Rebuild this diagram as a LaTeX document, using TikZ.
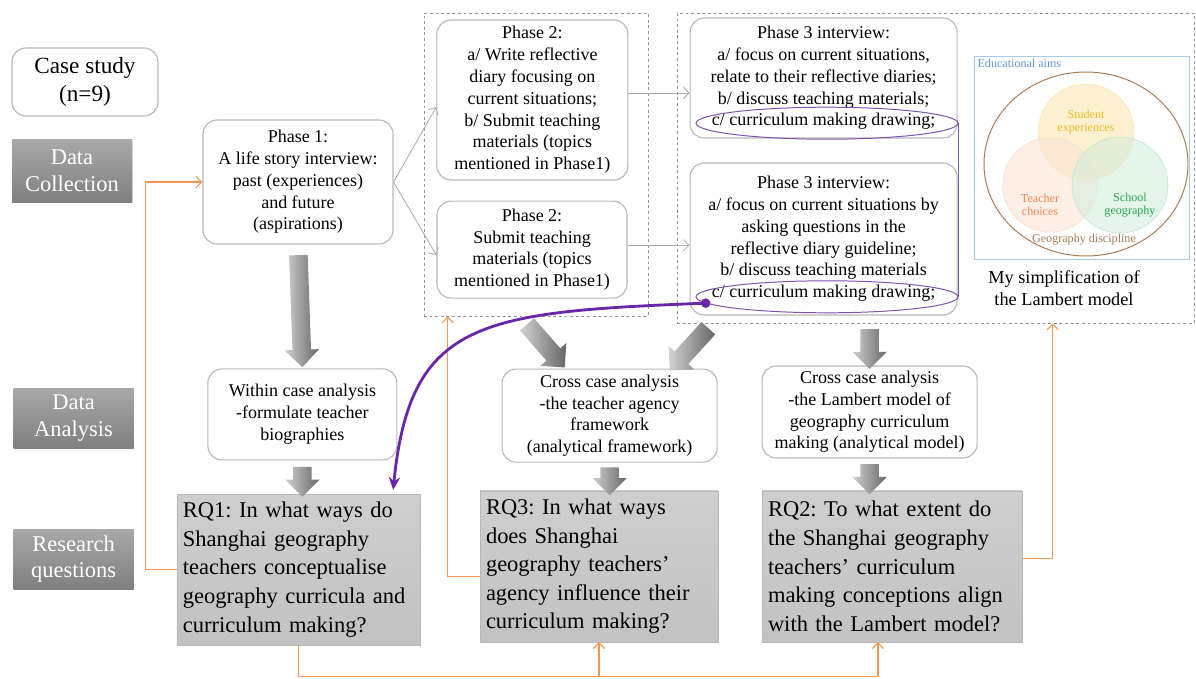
\documentclass[tikz,border=0pt]{standalone}
\usepackage{fontspec}
\setmainfont{Liberation Serif}
\usepackage{tikz}
\usetikzlibrary{positioning,arrows.meta,calc,shapes.geometric,shapes.arrows,shadows}
\definecolor{fborange}{RGB}{243,152,84}
\definecolor{ringpurple}{RGB}{128,80,178}
\definecolor{curvepurple}{RGB}{104,38,168}
\definecolor{aimblue}{RGB}{165,204,236}
\definecolor{aimtext}{RGB}{95,150,215}
\definecolor{discbrown}{RGB}{172,122,82}
\definecolor{stuyellow}{RGB}{238,190,40}
\definecolor{teaorange}{RGB}{238,140,80}
\definecolor{schgreen}{RGB}{40,168,80}

\begin{document}
\begin{tikzpicture}[
  box/.style={draw=gray!55, line width=0.8pt, rounded corners=0.35cm, fill=white, align=center,
    inner sep=2pt, font=\fontsize{12.8}{15.5}\selectfont},
  rqbox/.style={draw=gray!55, top color=black!19, bottom color=black!24, align=left,
    inner xsep=0.15cm, minimum height=3.775cm, font=\fontsize{16}{20.3}\selectfont\frenchspacing},
  lbl/.style={top color=black!34, bottom color=black!50, text=white, align=center,
    minimum width=3cm, minimum height=1.5cm, font=\fontsize{16}{19}\selectfont,
    drop shadow={opacity=0.3, shadow xshift=0.5pt, shadow yshift=-1pt}},
  grp/.style={draw=gray!85, dash pattern=on 2pt off 2pt, line width=0.5pt},
  flow/.style={-{Straight Barb[length=4pt, width=8pt]}, draw=gray!65, line width=0.6pt},
  fb/.style={-{Straight Barb[length=4pt, width=8pt]}, draw=fborange, line width=0.8pt},
  blk/.style={single arrow, sloped, allow upside down, inner xsep=0pt, inner ysep=0.225cm,
    minimum width=0.85cm, single arrow head extend=0.2cm, minimum height=#1,
    left color=black!18, right color=black!60},
  ring/.style={ellipse, draw=ringpurple, line width=0.7pt, inner sep=0pt},
  venn/.style={font=\fontsize{8.6}{9.6}\selectfont, align=center, inner sep=1pt}]
\useasboundingbox (0,0) rectangle (29.9,-16.975);

% row labels
\node[box, minimum width=3.65cm, minimum height=1.7cm, font=\fontsize{16.5}{20}\selectfont] (case) at (2.125,-2.05) {Case study\\(n=9)};
\node[lbl, minimum height=1.55cm] (lblcol) at (1.8,-4.275) {Data\\Collection};
\node[lbl] (lblana) at (1.84,-10.45) {Data\\Analysis};
\node[lbl] (lblrq) at (1.84,-13.975) {Research\\questions};

% data collection
\node[grp, minimum width=5.6cm, minimum height=7.575cm] (g2) at (13.4,-4.1125) {};
\node[grp, minimum width=12.925cm, minimum height=7.75cm] (g3) at (23.39,-4.2) {};
\node[box, minimum width=4.75cm, minimum height=3.1cm] (p1) at (7.45,-4.55)
  {Phase 1:\\A life story interview:\\past (experiences)\\and future\\(aspirations)};
\node[box, minimum width=4.775cm, minimum height=4cm] (p2a) at (13.31,-2.5)
  {Phase 2:\\a/ Write reflective\\diary focusing on\\current situations;\\b/ Submit teaching\\materials (topics\\mentioned in Phase1)};
\node[box, minimum width=4.75cm, minimum height=2.425cm] (p2b) at (13.3,-6.24)
  {Phase 2:\\Submit teaching\\materials (topics\\mentioned in Phase1)};
\node[box, minimum width=6.675cm, minimum height=3cm] (p3a) at (20.59,-1.95)
  {Phase 3 interview:\\a/ focus on current situations,\\relate to their reflective diaries;\\b/ discuss teaching materials;\\c/ curriculum making drawing;};
\node[box, minimum width=6.675cm, minimum height=3.8cm] (p3b) at (20.59,-5.975)
  {Phase 3 interview:\\a/ focus on current situations by\\asking questions in the\\reflective diary guideline;\\b/ discuss teaching materials\\c/ curriculum making drawing;};
\node[ring, minimum width=6.55cm, minimum height=0.8cm] (ring1) at (20.675,-3.08) {};
\node[ring, minimum width=6.55cm, minimum height=0.8cm] (ring2) at (20.675,-7.42) {};
\draw[ringpurple, line width=0.7pt] (ring1.east) -- (ring2.east);

\draw[flow] (p1.east) -- ([yshift=-0.175cm]p2a.west);
\draw[flow] (p1.east) -- ([yshift=-0.14cm]p2b.west);
\draw[flow] ([yshift=0.175cm]p2a.east) -- ([yshift=0.175cm]p2a.east -| p3a.west);
\draw[flow] ([yshift=0.11cm]p2b.east) -- ([yshift=0.11cm]p2b.east -| p3b.west);

% Lambert model
\node[draw=aimblue, line width=0.6pt, minimum width=5.375cm, minimum height=5.075cm] (aims) at (27.06,-3.96) {};
\node[venn, text=aimtext, anchor=north west] (aimslbl) at ([xshift=1pt, yshift=-1pt]aims.north west) {Educational aims};
\draw[discbrown, line width=0.7pt] (27.15,-4.1) ellipse (2.55 and 2.3);
\filldraw[fill=stuyellow!32, draw=stuyellow!35, fill opacity=0.7] (27.15,-3.3) circle (1.2);
\filldraw[fill=teaorange!24, draw=teaorange!30, fill opacity=0.6] (26.25,-4.625) circle (1.18);
\filldraw[fill=schgreen!20, draw=schgreen!30, fill opacity=0.6] (28.0,-4.625) circle (1.2);
\node[venn, text=stuyellow] (stu) at (27.15,-3.05) {Student\\experiences};
\node[venn, text=teaorange] (tea) at (26.0,-5.125) {Teacher\\choices};
\node[venn, text=schgreen] (sch) at (28.25,-5.125) {School\\geography};
\node[venn, text=discbrown] (disc) at (27.1,-6.0) {Geography discipline};
\node[align=center, font=\fontsize{13}{15.5}\selectfont] (cap) at (26.6,-7.2) {My simplification of\\the Lambert model};

% data analysis
\node[box, minimum width=4.725cm, minimum height=2.275cm] (within) at (7.56,-10.36)
  {Within case analysis\\-formulate teacher\\biographies};
\node[box, minimum width=5.375cm, minimum height=2.325cm] (cross1) at (15.24,-10.39)
  {Cross case analysis\\-the teacher agency\\framework\\(analytical framework)};
\node[box, minimum width=5.375cm, minimum height=2.3cm] (cross2) at (21.74,-10.3)
  {Cross case analysis\\-the Lambert model of\\geography curriculum\\making (analytical model)};

% research questions
\node[rqbox, text width=5.775cm] (rq1) at (7.46,-14.24)
  {RQ1: In what ways do\\Shanghai geography\\teachers conceptualise\\geography curricula and\\curriculum making?};
\node[rqbox, text width=5.65cm] (rq3) at (14.975,-14.16)
  {RQ3: In what ways\\does Shanghai\\geography teachers’\\agency influence their\\curriculum making?};
\node[rqbox, text width=6.2cm] (rq2) at (22.3,-14.16)
  {RQ2: To what extent do\\the Shanghai geography\\teachers’ curriculum\\making conceptions align\\with the Lambert model?};

% block arrows
\path (p1.south) -- node[blk=2.8cm] {} (within.north);
\path (within.south) -- node[blk=0.75cm] {} (within.south |- rq1.north);
\path ([xshift=-0.4cm]g2.south) -- node[blk=1.43cm] {} ([xshift=-1.1cm]cross1.north);
\path ([xshift=0.9cm]g3.south west) -- node[blk=1.43cm] {} ([xshift=1.55cm]cross1.north);
\path (cross2.north |- g3.south) -- node[blk=1.0cm] {} (cross2.north);
\path (cross1.south) -- node[blk=0.7cm] {} (cross1.south |- rq3.north);
\path (cross2.south) -- node[blk=0.75cm] {} (cross2.south |- rq2.north);

% feedback lines
\draw[fb] (rq1.west) -- ++(-0.775,0) |- (p1.west);
\draw[fb] ([yshift=-0.25cm]rq3.west) -| ([xshift=0.6cm]g2.south west);
\draw[fb] ([yshift=0.2cm]rq2.east) -| ([xshift=9.4cm]g3.south west);
\draw[fb] (rq1.south) -- ++(0,-0.77) coordinate (bl) -| ([xshift=-0.35cm]rq2.south);
\draw[fb] (bl -| rq3.south) -- (rq3.south);

% link to RQ1
\coordinate (pdot) at (ring2.183);
\draw[curvepurple, line width=2pt, -{Stealth[length=9pt, width=8pt]}] (pdot)
  .. controls (12.0,-7.8) and (10.25,-8.0) .. ([xshift=-0.675cm, yshift=0.1cm]rq1.north east);
\fill[curvepurple] (pdot) circle (0.12cm);
\end{tikzpicture}
\end{document}
